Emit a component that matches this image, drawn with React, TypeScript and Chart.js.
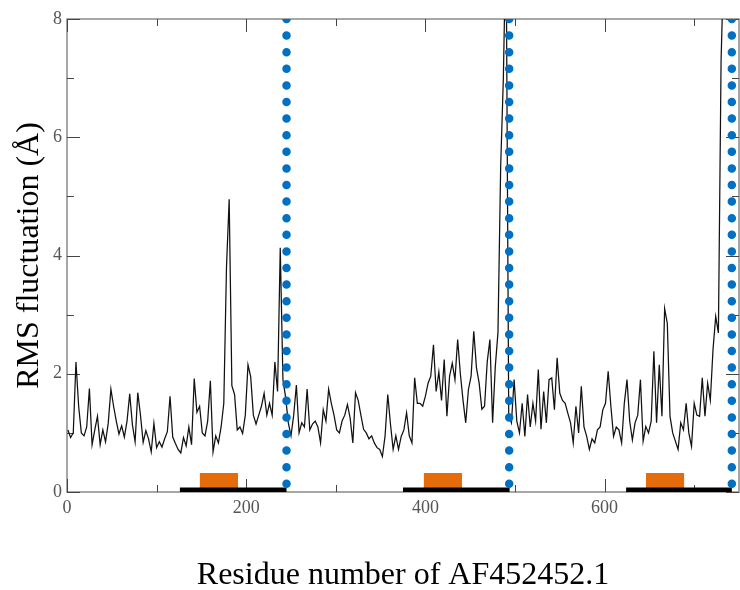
import React, { useEffect, useRef } from "react";
import { Chart, registerables } from "chart.js";

Chart.register(...registerables);

// ---- data ----
const RESIDUE_STEP = 3;

const chainAStart = 1;
const chainARmsf = [
  1.05, 0.92, 1.0, 2.2, 1.45, 1.0, 0.95, 1.1, 1.75, 0.8,
  1.05, 1.28, 0.8, 1.05, 0.85, 1.16, 1.74, 1.45, 1.2, 0.98,
  1.12, 0.93, 1.2, 1.66, 1.14, 0.85, 1.68, 1.3, 0.84, 1.04,
  0.9, 0.68, 1.16, 0.75, 0.85, 0.76, 0.9, 1.02, 1.62, 0.93,
  0.82, 0.72, 0.66, 0.92, 0.78, 1.1, 0.8, 1.92, 1.35, 1.45,
  1.0, 0.95, 1.2, 1.88, 0.68, 0.95, 0.83, 1.1, 1.5, 3.8,
  4.95, 1.8, 1.65, 1.05, 1.1, 0.99, 1.3, 2.15, 1.95, 1.3,
  1.15, 1.3, 1.45, 1.67, 1.3, 1.5, 1.3, 2.2, 1.7, 4.13,
  1.9, 1.6,
];

const chainBStart = 247;
const chainBRmsf = [
  1.17, 0.95, 1.3, 1.81, 1.0, 1.17, 1.1, 1.74, 1.05, 1.15,
  1.2, 1.1, 0.83, 1.39, 1.2, 1.74, 1.5, 1.3, 1.05, 1.0,
  1.2, 1.3, 1.48, 1.25, 0.83, 1.68, 1.55, 1.3, 1.06, 1.0,
  0.9, 0.95, 0.83, 0.75, 0.72, 0.6, 0.95, 1.65, 1.15, 0.72,
  0.95, 0.72, 0.94, 1.05, 1.34, 0.95, 0.83, 1.93, 1.5, 1.5,
  1.45, 1.62, 1.84, 1.96, 2.49, 1.7, 2.03, 1.55, 2.24, 1.28,
  1.96, 2.18, 1.9, 2.58, 2.0, 1.55, 1.17, 1.73, 1.96, 2.72,
  2.1, 1.84, 1.4, 1.45, 2.2, 2.58, 1.17, 2.12, 2.7, 5.5,
  7.0, 9.5, 1.3,
];

const chainCStart = 496;
const chainCRmsf = [
  1.17, 1.9, 1.2, 1.0, 1.5, 0.94, 1.65, 1.1, 1.5, 1.2,
  2.07, 1.06, 1.7, 1.17, 1.9, 1.93, 1.39, 2.27, 1.67, 1.55,
  1.5, 1.33, 1.17, 0.83, 1.45, 1.0, 1.79, 1.1, 0.94, 0.72,
  0.9, 0.83, 1.05, 1.1, 1.39, 1.5, 2.04, 1.45, 0.94, 1.1,
  1.05, 0.83, 1.5, 1.9, 1.2, 0.88, 1.17, 1.3, 1.9, 0.86,
  1.11, 1.0, 1.2, 2.38, 1.17, 2.15, 1.28, 3.1, 2.85, 1.28,
  1.0, 0.86, 0.72, 1.17, 1.05, 1.5, 1.0, 0.77, 1.5, 1.3,
  1.28, 1.93, 1.28, 1.84, 1.55, 2.41, 2.97, 2.69, 7.3, 9.0,
  10.0, 11.0, 11.0,
];

const chainBoundaries = [245, 493.5, 742];
const domainStarts = [126, 375, 624];
const domainEnds = [245, 494, 742];
const motifStarts = [148, 398, 646];
const motifEnds = [191, 441, 689];
const motifHeight = 0.32;

const xMajorTicks = [0, 200, 400, 600];
const xMinorTicks = [100, 300, 500, 700];
const yMajorTicks = [0, 2, 4, 6, 8];
const yMinorTicks = [1, 3, 5, 7];
const X_MAX = 750;
const Y_MAX = 8;

const xTitle = "Residue number of AF452452.1";
const yTitle = "RMS fluctuation (Å)";

const SERIF = "'Liberation Serif', 'Times New Roman', serif";

const toPoints = (start: number, vals: number[]) =>
  vals.map((v, i) => ({ x: start + i * RESIDUE_STEP, y: v }));

const framePlugin = {
  id: "xmgraceFrame",
  beforeDatasetsDraw(chart: any) {
    const { ctx, chartArea } = chart;
    const xs = chart.scales.x;
    const ys = chart.scales.y;
    const { left, right, top, bottom } = chartArea;
    ctx.save();
    ctx.strokeStyle = "#8a8a8a";
    ctx.lineWidth = 1.5;
    ctx.strokeRect(left, top, right - left, bottom - top);
    ctx.strokeStyle = "#444";
    ctx.lineWidth = 1;
    const major = 13;
    const minor = 7;
    ctx.beginPath();
    const xt = (vals: number[], len: number) => {
      vals.forEach((v) => {
        const px = Math.round(xs.getPixelForValue(v)) + 0.5;
        if (px < left - 1 || px > right + 1) return;
        ctx.moveTo(px, bottom);
        ctx.lineTo(px, bottom - len);
        ctx.moveTo(px, top);
        ctx.lineTo(px, top + len);
      });
    };
    const yt = (vals: number[], len: number) => {
      vals.forEach((v) => {
        const py = Math.round(ys.getPixelForValue(v)) + 0.5;
        ctx.moveTo(left, py);
        ctx.lineTo(left + len, py);
        ctx.moveTo(right, py);
        ctx.lineTo(right - len, py);
      });
    };
    xt(xMajorTicks, major);
    xt(xMinorTicks, minor);
    yt(yMajorTicks, major);
    yt(yMinorTicks, minor);
    ctx.stroke();
    ctx.restore();
  },
};

export default function App() {
  const ref = useRef<HTMLCanvasElement | null>(null);

  useEffect(() => {
    if (!ref.current) return;
    const rmsfPoints = [
      ...toPoints(chainAStart, chainARmsf),
      ...toPoints(chainBStart, chainBRmsf),
      ...toPoints(chainCStart, chainCRmsf),
    ];

    const boundarySets = chainBoundaries.map((b) => ({
      data: [
        { x: b, y: Y_MAX },
        { x: b, y: 0 },
      ],
      borderColor: "#0070c4",
      borderWidth: 8.5,
      borderDash: [0.01, 16.59],
      borderCapStyle: "round",
      pointRadius: 0,
      fill: false,
      order: 0,
    }));
    const domainSets = domainStarts.map((s, i) => ({
      data: [
        { x: s, y: 0 },
        { x: domainEnds[i], y: 0 },
      ],
      borderColor: "#000000",
      borderWidth: 9,
      borderCapStyle: "butt",
      pointRadius: 0,
      fill: false,
      order: 1,
    }));
    const motifSets = motifStarts.map((s, i) => ({
      data: [
        { x: s, y: motifHeight },
        { x: motifEnds[i], y: motifHeight },
      ],
      borderColor: "#e46c0a",
      backgroundColor: "#e46c0a",
      borderWidth: 0,
      pointRadius: 0,
      fill: "origin",
      order: 2,
    }));

    const chart = new Chart(ref.current, {
      type: "line",
      data: {
        datasets: [
          {
            data: rmsfPoints,
            borderColor: "#111111",
            borderWidth: 1.25,
            pointRadius: 0,
            tension: 0,
            fill: false,
            order: 3,
          },
          ...motifSets,
          ...domainSets,
          ...boundarySets,
        ] as any,
      },
      options: {
        responsive: false,
        animation: false,
        devicePixelRatio: 1,
        layout: { padding: { top: 19, right: 1, left: 0, bottom: 0 } },
        plugins: {
          legend: { display: false },
          tooltip: { enabled: false },
        },
        scales: {
          x: {
            type: "linear",
            min: 0,
            max: X_MAX,
            grid: { display: false, drawTicks: false },
            border: { display: false },
            ticks: {
              stepSize: 200,
              includeBounds: false,
              autoSkip: false,
              maxRotation: 0,
              color: "#555",
              padding: 5,
              font: { family: SERIF, size: 18 },
            },
            title: {
              display: true,
              text: xTitle,
              color: "#000",
              font: { family: SERIF, size: 32, lineHeight: 0.85 },
              padding: { top: 0, bottom: 1 },
            },
            afterFit: (s: any) => {
              s.height = 98;
            },
          },
          y: {
            type: "linear",
            min: 0,
            max: Y_MAX,
            grid: { display: false, drawTicks: false },
            border: { display: false },
            ticks: {
              stepSize: 2,
              color: "#555",
              padding: 5,
              font: { family: SERIF, size: 18 },
            },
            title: {
              display: true,
              text: yTitle,
              color: "#000",
              font: { family: SERIF, size: 32, lineHeight: 1 },
              padding: { top: 14, bottom: 0 },
            },
            afterFit: (s: any) => {
              s.width = 67;
            },
          },
        },
      } as any,
      plugins: [framePlugin],
    });
    return () => chart.destroy();
  }, []);

  return (
    <div
      style={{
        position: "fixed",
        left: 0,
        top: 0,
        width: 740,
        height: 590,
        background: "#fff",
      }}
    >
      <canvas ref={ref} width={740} height={590} />
    </div>
  );
}
